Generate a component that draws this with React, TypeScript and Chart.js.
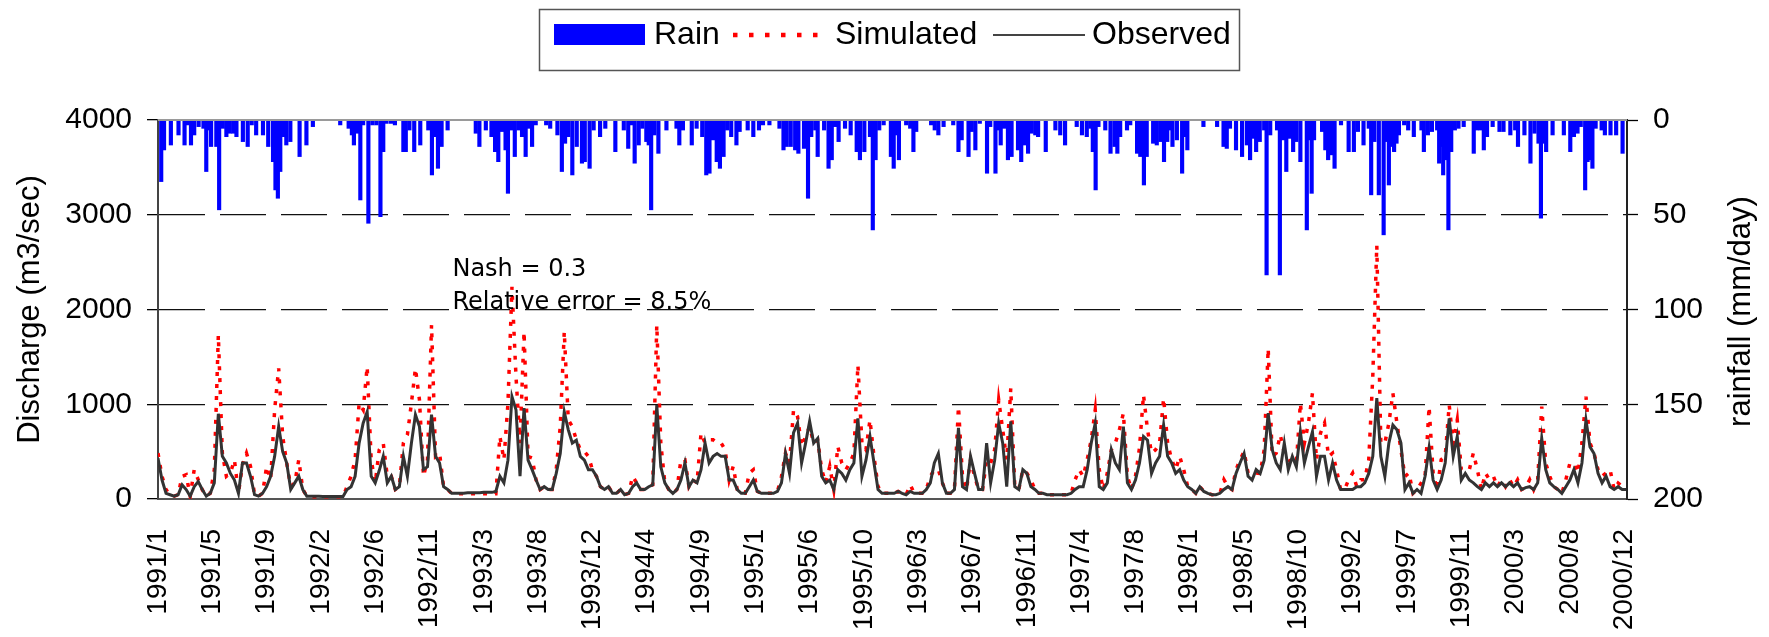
import React, { useEffect, useRef } from "react";
import { Chart, registerables } from "chart.js";

Chart.register(...registerables);

const W = 1769;
const H = 637;

// X axis: day index from 1991-01-01, tick labels every 135 days
const xTickDays = [0, 135, 270, 405, 540, 675, 810, 945, 1080, 1215, 1350, 1485, 1620, 1755, 1890, 2025, 2160, 2295, 2430, 2565, 2700, 2835, 2970, 3105, 3240, 3375, 3510, 3645];
const xTickLabels = ["1991/1", "1991/5", "1991/9", "1992/2", "1992/6", "1992/11", "1993/3", "1993/8", "1993/12", "1994/4", "1994/9", "1995/1", "1995/6", "1995/10", "1996/3", "1996/7", "1996/11", "1997/4", "1997/8", "1998/1", "1998/5", "1998/10", "1999/2", "1999/7", "1999/11", "2000/3", "2000/8", "2000/12"];
const lastDay = 3652;

// Discharge (m3/sec), one value every 10 days
const flowStepDays = 10;
const observed = [
  430, 200, 60, 45, 30, 45, 150, 100, 30, 130,
  185, 100, 30, 60, 170, 900, 450, 380, 270, 200,
  60, 380, 380, 240, 45, 30, 60, 130, 240, 450,
  765, 500, 380, 100, 170, 240, 100, 30, 30, 28,
  28, 27, 27, 26, 26, 26, 26, 100, 130, 240,
  590, 800, 920, 240, 170, 300, 450, 170, 240, 100,
  130, 450, 240, 590, 890, 765, 310, 340, 890, 450,
  380, 130, 100, 60, 60, 60, 60, 65, 65, 65,
  65, 70, 70, 70, 80, 240, 170, 410, 1080, 940,
  240, 960, 410, 310, 200, 100, 130, 100, 100, 270,
  480, 920, 730, 590, 620, 450, 410, 310, 310, 240,
  130, 100, 130, 60, 60, 100, 45, 60, 130, 170,
  100, 100, 130, 150, 990, 340, 170, 100, 60, 100,
  200, 380, 130, 200, 170, 310, 590, 380, 450, 480,
  450, 450, 200, 200, 100, 60, 60, 130, 200, 80,
  60, 60, 60, 60, 80, 170, 480, 270, 700, 800,
  380, 590, 820, 590, 640, 240, 170, 200, 100, 310,
  270, 200, 310, 380, 850, 240, 410, 660, 380, 100,
  60, 60, 60, 60, 80, 60, 45, 80, 60, 60,
  60, 100, 170, 380, 480, 170, 60, 60, 100, 750,
  130, 100, 450, 270, 100, 100, 590, 170, 410, 800,
  590, 130, 820, 130, 100, 310, 270, 130, 100, 60,
  60, 45, 45, 45, 45, 45, 45, 60, 100, 130,
  130, 310, 590, 800, 130, 100, 170, 520, 380, 310,
  765, 170, 100, 200, 380, 660, 620, 270, 380, 450,
  780, 450, 380, 270, 310, 200, 130, 100, 60, 130,
  80, 60, 45, 45, 60, 100, 130, 100, 270, 380,
  480, 240, 200, 310, 270, 410, 905, 520, 380, 310,
  590, 310, 450, 340, 710, 380, 550, 710, 240, 450,
  450, 200, 380, 200, 100, 100, 100, 100, 130, 130,
  170, 270, 450, 1065, 450, 240, 590, 780, 730, 590,
  100, 170, 60, 100, 60, 240, 540, 200, 100, 200,
  380, 850, 450, 660, 200, 270, 200, 170, 130, 100,
  170, 130, 170, 130, 170, 130, 170, 130, 170, 100,
  120, 130, 100, 170, 640, 310, 170, 130, 100, 60,
  130, 200, 310, 170, 380, 835, 550, 480, 270, 170,
  240, 130, 100, 130, 100, 100
];
const simulated = [
  484, 239, 98, 46, 30, 45, 240, 256, 30, 309,
  204, 98, 30, 60, 309, 1730, 484, 239, 274, 414,
  60, 362, 484, 344, 45, 30, 60, 344, 204, 941,
  1379, 660, 379, 133, 170, 414, 100, 30, 25, 25,
  25, 25, 25, 25, 25, 25, 25, 133, 239, 414,
  1011, 941, 1397, 414, 170, 519, 590, 239, 240, 100,
  130, 590, 677, 1011, 1379, 1046, 239, 414, 1836, 449,
  484, 130, 100, 60, 55, 55, 55, 55, 55, 55,
  55, 55, 55, 55, 55, 660, 414, 1011, 2239, 1292,
  590, 1766, 449, 432, 200, 100, 130, 100, 100, 309,
  765, 1766, 835, 765, 625, 519, 502, 449, 310, 240,
  130, 100, 130, 60, 60, 100, 45, 60, 239, 170,
  100, 100, 130, 150, 1836, 590, 170, 100, 60, 100,
  414, 414, 130, 200, 170, 695, 590, 625, 625, 590,
  590, 519, 200, 344, 100, 60, 60, 274, 309, 80,
  60, 60, 60, 60, 80, 239, 484, 379, 941, 870,
  555, 660, 765, 590, 625, 309, 170, 344, 100, 555,
  379, 309, 379, 484, 1415, 590, 519, 835, 449, 133,
  60, 60, 60, 60, 80, 60, 45, 151, 60, 60,
  60, 100, 239, 309, 309, 170, 60, 60, 100, 976,
  239, 100, 414, 239, 100, 100, 414, 379, 519, 1046,
  730, 414, 1169, 130, 100, 309, 274, 204, 100, 60,
  60, 45, 45, 45, 45, 45, 45, 60, 204, 309,
  239, 414, 625, 941, 309, 100, 274, 519, 590, 730,
  906, 239, 100, 239, 540, 1099, 730, 484, 519, 590,
  1064, 590, 414, 309, 449, 309, 130, 100, 60, 130,
  80, 60, 45, 45, 60, 204, 130, 100, 309, 414,
  502, 274, 274, 274, 270, 519, 1590, 449, 484, 677,
  484, 414, 379, 379, 1011, 590, 800, 1116, 414, 695,
  800, 449, 484, 309, 100, 100, 204, 274, 133, 204,
  204, 414, 1292, 2678, 590, 590, 800, 1116, 800, 519,
  239, 274, 60, 100, 168, 239, 976, 274, 100, 414,
  449, 993, 590, 835, 309, 309, 309, 484, 309, 100,
  274, 204, 239, 130, 204, 130, 204, 130, 204, 100,
  120, 204, 100, 204, 976, 379, 239, 130, 100, 60,
  204, 379, 379, 274, 590, 1081, 590, 484, 309, 239,
  274, 309, 100, 168, 133, 100
];

// Rain (mm/day): day index and depth of each visible bar
const rainDays = [
  8, 15, 32, 51, 66, 73, 82, 90, 101, 113, 120, 126, 132, 145, 152, 161, 170, 178, 187, 195,
  211, 223, 233, 244, 261, 274, 286, 292, 298, 304, 312, 319, 329, 352, 369, 385, 453, 474, 482, 487,
  497, 503, 510, 523, 533, 543, 553, 560, 568, 579, 589, 610, 616, 625, 637, 652, 672, 681, 689, 696,
  705, 720, 790, 799, 815, 829, 838, 846, 855, 864, 870, 878, 887, 896, 905, 914, 922, 930, 939, 965,
  975, 993, 1004, 1012, 1020, 1030, 1041, 1054, 1061, 1073, 1083, 1099, 1112, 1137, 1158, 1169, 1178, 1185, 1195, 1204,
  1214, 1220, 1226, 1234, 1244, 1264, 1289, 1296, 1305, 1327, 1339, 1353, 1363, 1371, 1380, 1389, 1397, 1406, 1415, 1425,
  1438, 1446, 1466, 1480, 1494, 1504, 1520, 1545, 1555, 1563, 1573, 1584, 1592, 1606, 1616, 1624, 1634, 1640, 1656, 1667,
  1675, 1683, 1692, 1708, 1722, 1737, 1745, 1756, 1770, 1777, 1784, 1793, 1804, 1822, 1829, 1835, 1842, 1860, 1870, 1878,
  1885, 1922, 1931, 1940, 1953, 1977, 1990, 1998, 2015, 2023, 2032, 2043, 2061, 2069, 2082, 2089, 2095, 2103, 2113, 2122,
  2138, 2146, 2154, 2163, 2172, 2181, 2188, 2207, 2231, 2243, 2255, 2284, 2297, 2309, 2318, 2324, 2331, 2338, 2355, 2368,
  2378, 2385, 2392, 2409, 2417, 2434, 2442, 2451, 2458, 2474, 2483, 2492, 2501, 2509, 2516, 2522, 2533, 2546, 2552, 2559,
  2599, 2633, 2649, 2657, 2665, 2680, 2695, 2707, 2715, 2722, 2730, 2739, 2750, 2756, 2765, 2782, 2789, 2797, 2805, 2814,
  2822, 2830, 2840, 2856, 2861, 2868, 2874, 2894, 2902, 2909, 2917, 2925, 2941, 2960, 2973, 2983, 2997, 3010, 3016, 3024,
  3035, 3047, 3054, 3060, 3067, 3073, 3079, 3085, 3098, 3108, 3122, 3141, 3147, 3157, 3167, 3180, 3185, 3190, 3195, 3201,
  3208, 3215, 3224, 3233, 3246, 3271, 3279, 3288, 3296, 3304, 3318, 3335, 3345, 3362, 3374, 3381, 3397, 3412, 3422, 3432,
  3438, 3445, 3451, 3467, 3495, 3511, 3520, 3529, 3537, 3548, 3554, 3559, 3566, 3574, 3589, 3597, 3611, 3625, 3641
];
const rainMm = [
  32.5, 15.8, 13.2, 7.9, 13.2, 2.6, 13.2, 7.9, 3.5, 4.4, 27.2, 5.3, 14, 14, 47.4, 4.4, 8.8, 7, 7, 8.8,
  11.4, 14, 2.6, 7.9, 7.9, 14, 22, 36.9, 41.3, 27.2, 8.8, 13.2, 11.4, 19.3, 13.2, 3.5, 2.6, 4.4, 7.9, 13.2,
  7, 42.2, 2.6, 54.5, 2.6, 2.6, 51, 16.7, 1.8, 1.8, 2.6, 16.7, 16.7, 5.3, 16.7, 13.2, 5.3, 29, 8.8, 25.5,
  14, 5.3, 7, 14, 5.3, 8.8, 16.7, 22, 6.1, 15.8, 38.7, 5.3, 19.3, 5.3, 8.8, 19.3, 4.4, 14, 2.6, 2.6,
  4.4, 7.9, 27.2, 12.3, 8.8, 29, 14, 22.8, 22, 25.5, 5.3, 8.8, 4.4, 16.7, 5.3, 15, 2.6, 22.8, 13.2, 4.4,
  11.4, 13.2, 47.4, 7.9, 17.6, 5.3, 4.4, 13.2, 5.3, 13.2, 4.4, 8.8, 29, 28.1, 10.5, 22, 25.5, 19.3, 5.3, 8.8,
  13.2, 6.1, 5.3, 8.8, 5.3, 2.6, 2.6, 4.4, 15.8, 14, 14, 15.8, 17.6, 15, 41.3, 8.8, 5.3, 19.3, 5.3, 25.5,
  21, 3.5, 11.4, 4.4, 7.9, 16.7, 21, 16.7, 8.8, 58, 21, 5.3, 2.6, 19.3, 25.5, 7.9, 21, 2.6, 4.4, 16.7,
  6.1, 2.6, 5.3, 7.9, 3.5, 2.6, 16.7, 10.5, 19.3, 6.1, 15.8, 1.8, 28.1, 3.5, 28.1, 5.3, 13.2, 4.4, 21, 19.3,
  15.8, 22, 13.2, 17.6, 7, 7.9, 8.8, 16.7, 5.3, 7.9, 13.2, 3.5, 7.9, 8.8, 4.4, 16.7, 36.9, 3.5, 5.3, 17.6,
  14, 17.6, 8.8, 5.3, 2.6, 17.6, 19.3, 34.3, 19.3, 12.3, 13.2, 11.4, 22, 11.4, 5.3, 14, 10.5, 28.1, 8.8, 15.8,
  3.5, 3.5, 14, 15, 4.4, 15.8, 19.3, 13.2, 21, 9.7, 16.7, 11.4, 5.3, 81.7, 7.9, 5.3, 81.7, 10.5, 27.2, 9.7,
  16.7, 11.4, 22, 58, 10.5, 38.7, 10.5, 6.1, 15.8, 21, 18.4, 25.5, 2.6, 16.7, 16.7, 6.1, 13.2, 4.4, 39.5, 11.4,
  39.5, 60.6, 11.4, 34.3, 14, 16.7, 12.3, 7.9, 2.6, 5.3, 8.8, 5.3, 16.7, 7.9, 6.1, 5.3, 22.8, 14, 29, 21,
  58, 16.7, 5.3, 4.4, 3.5, 17.6, 5.3, 5.3, 15.8, 8.8, 3.5, 6.1, 6.1, 7.9, 5.3, 14, 7.9, 22.8, 7, 12.3,
  51.8, 12.3, 16.7, 7.9, 7.9, 16.7, 8.8, 7, 3.5, 36.9, 22, 21, 25.5, 4.4, 5.3, 7.9, 7.9, 7.9, 17.6
];

const dischargeTitle = "Discharge (m3/sec)";
const rainTitle = "rainfall (mm/day)";
const legendItems = ["Rain", "Simulated", "Observed"];
const noteLines = ["Nash = 0.3", "Relative error = 8.5%"];
const noteAnchor = { day: 732, value: 2350 };

const FONT = "'Liberation Sans', Arial, Helvetica, sans-serif";

const decorPlugin = {
  id: "decor",
  afterDraw(chart: any) {
    const ctx = chart.ctx as CanvasRenderingContext2D;
    const a = chart.chartArea;
    ctx.save();
    // top plot border
    ctx.strokeStyle = "#9a9a9a";
    ctx.lineWidth = 2;
    ctx.beginPath();
    ctx.moveTo(a.left, a.top);
    ctx.lineTo(a.right, a.top);
    ctx.stroke();

    // right axis title (reads bottom to top)
    ctx.fillStyle = "#000";
    ctx.font = `31px ${FONT}`;
    ctx.textAlign = "center";
    ctx.textBaseline = "middle";
    ctx.save();
    ctx.translate(1741, (a.top + a.bottom) / 2 + 2);
    ctx.rotate(-Math.PI / 2);
    ctx.fillText(rainTitle, 0, 0);
    ctx.restore();

    // legend
    ctx.strokeStyle = "#555";
    ctx.lineWidth = 1.5;
    ctx.strokeRect(539.5, 9.5, 700, 61);
    const cy = 35;
    ctx.fillStyle = "#0000ff";
    ctx.fillRect(554, 24, 91, 21);
    ctx.fillStyle = "#000";
    ctx.font = `32px ${FONT}`;
    ctx.textAlign = "left";
    ctx.textBaseline = "middle";
    ctx.fillText(legendItems[0], 654, cy);
    ctx.save();
    ctx.strokeStyle = "#ff0000";
    ctx.lineWidth = 4.5;
    ctx.setLineDash([4.5, 11.5]);
    ctx.beginPath();
    ctx.moveTo(733, cy);
    ctx.lineTo(829, cy);
    ctx.stroke();
    ctx.restore();
    ctx.fillText(legendItems[1], 835, cy);
    ctx.strokeStyle = "#444";
    ctx.lineWidth = 2;
    ctx.beginPath();
    ctx.moveTo(993, cy);
    ctx.lineTo(1085, cy);
    ctx.stroke();
    ctx.fillText(legendItems[2], 1092, cy);

    // note
    const xs = chart.scales.x;
    const ys = chart.scales.y;
    const nx = xs.getPixelForValue(noteAnchor.day);
    const ny = ys.getPixelForValue(noteAnchor.value);
    ctx.font = "24px 'DejaVu Sans', sans-serif";
    ctx.textAlign = "left";
    ctx.textBaseline = "alphabetic";
    ctx.fillText(noteLines[0], nx, ny);
    ctx.fillText(noteLines[1], nx, ny + 33);
    ctx.restore();
  },
};

export default function App() {
  const ref = useRef<HTMLCanvasElement>(null);
  useEffect(() => {
    const canvas = ref.current;
    if (!canvas) return;
    Chart.defaults.font.family = FONT;
    const obsData = observed.map((v, i) => ({ x: i * flowStepDays, y: v }));
    const simData = simulated.map((v, i) => ({ x: i * flowStepDays, y: v }));
    const rainData = rainDays.map((d, i) => ({ x: d, y: rainMm[i] }));
    const chart = new Chart(canvas, {
      type: "line",
      data: {
        datasets: [
          {
            type: "line",
            label: "Observed",
            data: obsData,
            borderColor: "#333333",
            borderWidth: 3,
            pointRadius: 0,
            tension: 0,
            yAxisID: "y",
            xAxisID: "x",
            order: 1,
          },
          {
            type: "line",
            label: "Simulated",
            data: simData,
            borderColor: "#ff0000",
            borderWidth: 3.5,
            borderDash: [4, 8],
            pointRadius: 0,
            tension: 0,
            yAxisID: "y",
            xAxisID: "x",
            order: 2,
          },
          {
            type: "bar",
            label: "Rain",
            data: rainData,
            backgroundColor: "#0000ff",
            borderWidth: 0,
            barThickness: 3.5,
            grouped: false,
            yAxisID: "y2",
            xAxisID: "x",
            order: 3,
          } as any,
        ],
      },
      options: {
        responsive: false,
        animation: false,
        events: [],
        layout: { padding: { top: 120, left: 0, right: 0, bottom: 0 } },
        plugins: { legend: { display: false }, tooltip: { enabled: false }, title: { display: false } },
        scales: {
          x: {
            type: "linear",
            position: "bottom",
            offset: false,
            min: 0,
            max: lastDay,
            grid: { display: false, drawTicks: false, offset: false },
            border: { display: true, color: "#555", width: 2 },
            afterBuildTicks: (scale: any) => {
              scale.ticks = xTickDays.map((v) => ({ value: v }));
            },
            afterFit: (scale: any) => {
              scale.height = 138;
              scale.paddingLeft = 0;
              scale.paddingRight = 0;
            },
            ticks: {
              autoSkip: false,
              maxRotation: 90,
              minRotation: 90,
              padding: 30,
              labelOffset: 0,
              color: "#000",
              font: { size: 28 },
              callback: (_v: any, i: number) => xTickLabels[i],
            },
          },
          y: {
            type: "linear",
            position: "left",
            min: 0,
            max: 4000,
            grid: {
              color: (c: any) => (c.tick && (c.tick.value === 0 || c.tick.value === 4000) ? "rgba(0,0,0,0)" : "#111"),
              lineWidth: 1.3,
              tickColor: "#000",
              tickLength: 11,
              tickWidth: 1.3,
            },
            border: { display: true, color: "#444", width: 2, dash: [46, 15] },
            afterFit: (scale: any) => {
              scale.width = 158;
            },
            ticks: { stepSize: 1000, padding: 15, color: "#000", font: { size: 30 }, callback: (v: any) => String(v) },
            title: { display: true, text: dischargeTitle, color: "#000", font: { size: 31 }, padding: { top: 12, bottom: 0 } },
          },
          y2: {
            type: "linear",
            position: "right",
            min: 0,
            max: 200,
            reverse: true,
            grid: { drawOnChartArea: false, tickColor: "#000", tickLength: 11, tickWidth: 1.3 },
            border: { display: true, color: "#222", width: 2 },
            afterFit: (scale: any) => {
              scale.width = 142;
            },
            ticks: { stepSize: 50, padding: 15, color: "#000", font: { size: 30 }, callback: (v: any) => String(v) },
          },
        },
      },
      plugins: [decorPlugin],
    } as any);
    return () => chart.destroy();
  }, []);
  return (
    <div style={{ position: "fixed", left: 0, top: 0, width: W, height: H, background: "#fff" }}>
      <canvas ref={ref} width={W} height={H} style={{ display: "block", width: W, height: H }} />
    </div>
  );
}
